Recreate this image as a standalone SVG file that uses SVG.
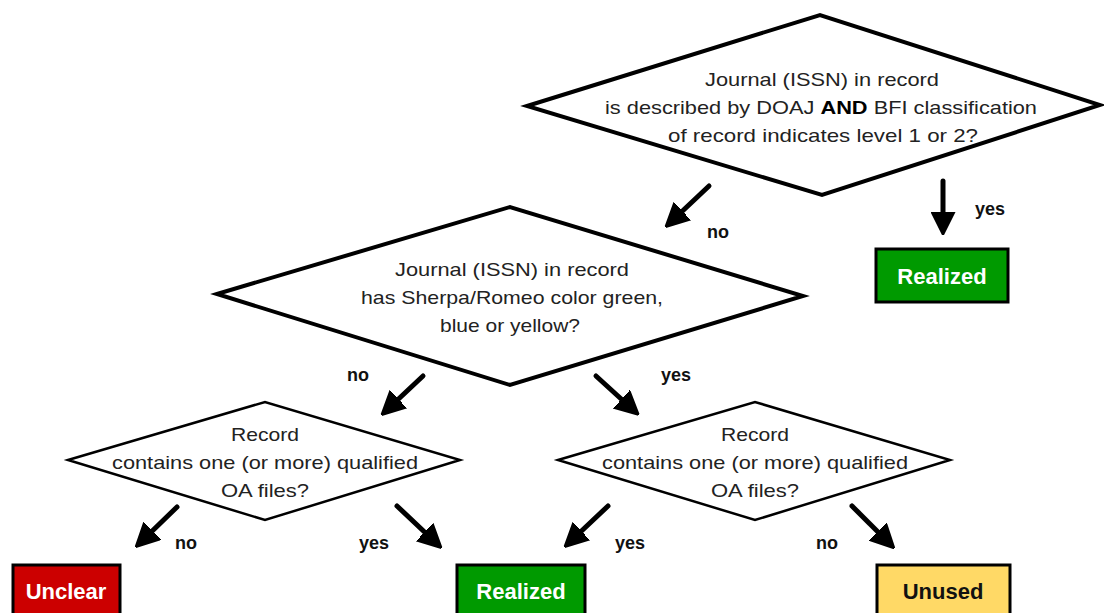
<svg xmlns="http://www.w3.org/2000/svg" width="1104" height="613" viewBox="0 0 1104 613">
<defs>
<style>
.dia{fill:#fff;stroke:#000;stroke-linejoin:miter}
.big{stroke-width:4}
.small{stroke-width:2.5}
.q{font-family:"Liberation Sans",Arial,sans-serif;font-size:19px;fill:#222;text-anchor:middle}
.lbl{font-family:"Liberation Sans",Arial,sans-serif;font-size:18px;font-weight:bold;fill:#111}
.box{stroke:#000;stroke-width:3}
.bt{font-family:"Liberation Sans",Arial,sans-serif;font-size:22px;font-weight:bold;text-anchor:middle}
.arr{stroke:#000;stroke-width:5;stroke-linecap:round;fill:none;marker-end:url(#ah)}
</style>
<marker id="ah" viewBox="0 0 10 10" refX="5" refY="5" markerWidth="4.6" markerHeight="5" orient="auto" markerUnits="strokeWidth">
<path d="M0,0 L10,5 L0,10 z" fill="#000" stroke="#000" stroke-width="1" stroke-linejoin="round"/>
</marker>
</defs>
<rect width="1104" height="613" fill="#fff"/>
<g id="d1">
<polygon class="dia big" points="527,106 820,15 1100,105 822,195"/>
<text class="q" x="822" y="86" textLength="234" lengthAdjust="spacingAndGlyphs">Journal (ISSN) in record</text>
<text class="q" x="821" y="114" textLength="432" lengthAdjust="spacingAndGlyphs">is described by DOAJ <tspan font-weight="bold" fill="#000">AND</tspan> BFI classification</text>
<text class="q" x="823" y="142" textLength="310" lengthAdjust="spacingAndGlyphs">of record indicates level 1 or 2?</text>
</g>
<g id="d2">
<polygon class="dia big" points="217,294 510,207 803,296 510,385"/>
<text class="q" x="512" y="276" textLength="234" lengthAdjust="spacingAndGlyphs">Journal (ISSN) in record</text>
<text class="q" x="512" y="304" textLength="302" lengthAdjust="spacingAndGlyphs">has Sherpa/Romeo color green,</text>
<text class="q" x="510" y="332" textLength="140" lengthAdjust="spacingAndGlyphs">blue or yellow?</text>
</g>
<g id="d3">
<polygon class="dia small" points="68,460 265,402 460,460 265,520"/>
<text class="q" x="265" y="441" textLength="68" lengthAdjust="spacingAndGlyphs">Record</text>
<text class="q" x="265" y="469" textLength="306" lengthAdjust="spacingAndGlyphs">contains one (or more) qualified</text>
<text class="q" x="265" y="497" textLength="88" lengthAdjust="spacingAndGlyphs">OA files?</text>
</g>
<g id="d4">
<polygon class="dia small" points="558,460 755,402 950,460 755,520"/>
<text class="q" x="755" y="441" textLength="68" lengthAdjust="spacingAndGlyphs">Record</text>
<text class="q" x="755" y="469" textLength="306" lengthAdjust="spacingAndGlyphs">contains one (or more) qualified</text>
<text class="q" x="755" y="497" textLength="88" lengthAdjust="spacingAndGlyphs">OA files?</text>
</g>
<g id="r1">
<rect class="box" x="876" y="249" width="132" height="53" fill="#009a00"/>
<text class="bt" x="942" y="284" fill="#fff">Realized</text>
</g>
<g id="unclear">
<rect class="box" x="13" y="565" width="107" height="60" fill="#cc0000"/>
<text class="bt" x="66" y="599" fill="#fff">Unclear</text>
</g>
<g id="r2">
<rect class="box" x="457" y="565" width="128" height="60" fill="#009a00"/>
<text class="bt" x="521" y="599" fill="#fff">Realized</text>
</g>
<g id="unused">
<rect class="box" x="877" y="565" width="133" height="60" fill="#ffd966"/>
<text class="bt" x="943" y="599" fill="#111">Unused</text>
</g>
<g id="connectors">
<line class="arr" x1="709" y1="186" x2="674" y2="219"/>
<line class="arr" x1="943" y1="181" x2="943" y2="223"/>
<line class="arr" x1="423" y1="376" x2="390" y2="407"/>
<line class="arr" x1="596" y1="376" x2="630" y2="407"/>
<line class="arr" x1="177" y1="507" x2="144" y2="539"/>
<line class="arr" x1="397" y1="506" x2="433" y2="540"/>
<line class="arr" x1="608" y1="506" x2="573" y2="539"/>
<line class="arr" x1="852" y1="506" x2="886" y2="540"/>
<text class="lbl" x="707" y="238">no</text>
<text class="lbl" x="975" y="215">yes</text>
<text class="lbl" x="347" y="381">no</text>
<text class="lbl" x="661" y="381">yes</text>
<text class="lbl" x="175" y="549">no</text>
<text class="lbl" x="359" y="549">yes</text>
<text class="lbl" x="615" y="549">yes</text>
<text class="lbl" x="816" y="549">no</text>
</g>
</svg>
